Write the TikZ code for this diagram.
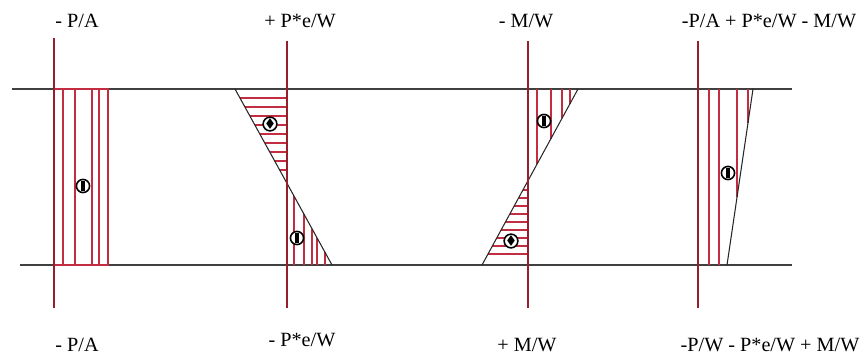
\documentclass[tikz,border=0pt]{standalone}
\usepackage{amssymb}
\usepackage{fontspec}
\setmainfont{Liberation Serif}
\newfontfamily\labelfont{Liberation Serif}
\definecolor{axisred}{RGB}{150,30,45}
\definecolor{hatchred}{RGB}{195,45,65}
\newcommand{\barmark}{\rule{1.8pt}{5.5pt}}
\newcommand{\plusmark}{$\scriptstyle\blacklozenge$}

\begin{document}
\begin{tikzpicture}[x=0.02cm,y=-0.02cm,
      axis line/.style={axisred,line width=0.8pt},
      base line/.style={black!75,line width=0.8pt},
      hatch line/.style={hatchred,line width=0.6pt},
      slope line/.style={black!85,line width=0.6pt},
      value label/.style={font=\labelfont\fontsize{11.5}{14}\selectfont},
      sign node/.style={circle,draw,fill=white,line width=0.9pt,inner sep=0pt,minimum size=7.5pt}]
      \useasboundingbox (0,0) rectangle (868,358);

      % beam edges
      \draw[base line] (12,89) -- (792,89);
      \draw[base line] (20,265) -- (792,265);

      % - P/A
      \draw[hatch line] (54,89) rectangle (108,265);
      \foreach \x in {63,75,92,99}
        \draw[hatch line] (\x,89) -- (\x,265);
      \node[sign node] (s1) at (83,186) {\barmark};

      % + P*e/W
      \foreach \y in {98,107,...,176}
        \draw[hatch line] ({235+(\y-89)*97/176},\y) -- (287,\y);
      \foreach \x in {294,304,312,317,325}
        \draw[hatch line] (\x,{89+(\x-235)*176/97}) -- (\x,265);
      \draw[slope line] (235,89) -- (332,265);
      \node[sign node] (s2) at (270,124) {\plusmark};
      \node[sign node] (s3) at (297,238) {\barmark};

      % - M/W
      \foreach \x in {537,551,562,570}
        \draw[hatch line] (\x,89) -- (\x,{89+(578-\x)*176/96});
      \foreach \y in {190,198,...,258}
        \draw[hatch line] ({578-(\y-89)*96/176},\y) -- (528,\y);
      \draw[slope line] (578,89) -- (482,265);
      \node[sign node] (s4) at (544,121) {\barmark};
      \node[sign node] (s5) at (511,241) {\plusmark};

      % sum
      \foreach \x in {709,719}
        \draw[hatch line] (\x,89) -- (\x,265);
      \foreach \x in {737,748}
        \draw[hatch line] (\x,89) -- (\x,{89+(753-\x)*176/26});
      \draw[slope line] (753,89) -- (727,265);
      \node[sign node] (s6) at (728,173) {\barmark};

      % axes
      \foreach \x/\top in {54/38,287/41,528/41,698/41}
        \draw[axis line] (\x,\top) -- (\x,308);

      % labels
      \node[value label] (t1) at (77,21) {- P/A};
      \node[value label] (t2) at (300,21) {+ P*e/W};
      \node[value label] (t3) at (526,21) {- M/W};
      \node[value label] (t4) at (769,21) {-P/A + P*e/W - M/W};
      \node[value label] (b1) at (77,345) {- P/A};
      \node[value label] (b2) at (302,340) {- P*e/W};
      \node[value label] (b3) at (527,345) {+ M/W};
      \node[value label] (b4) at (770,345) {-P/W - P*e/W + M/W};
\end{tikzpicture}
\end{document}
